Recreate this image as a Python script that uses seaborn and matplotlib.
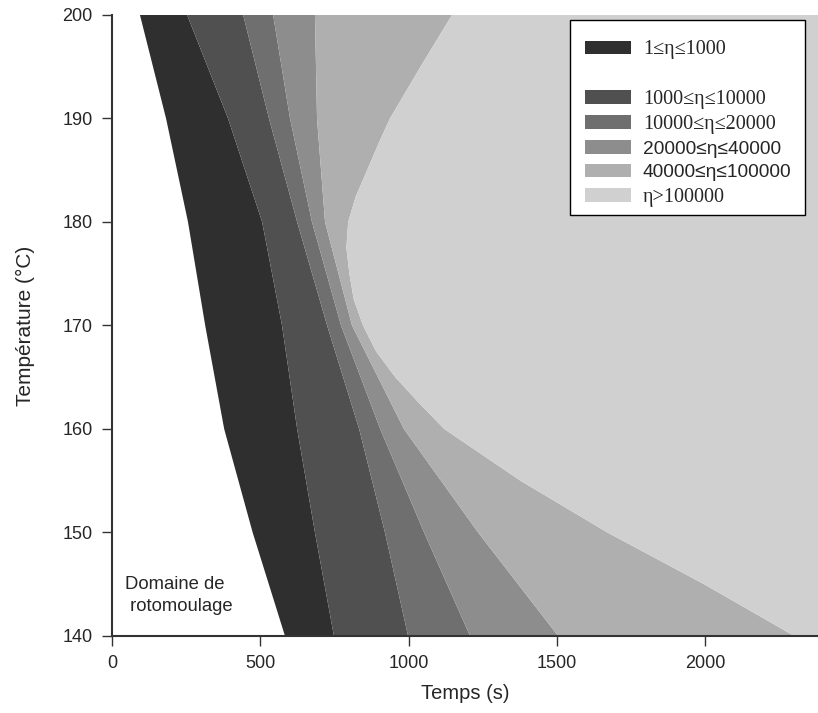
import matplotlib
matplotlib.use("Agg")
import matplotlib.pyplot as plt
from matplotlib.patches import Patch, Rectangle
import numpy as np
import seaborn as sns

sns.set_theme(style="ticks")
plt.rcParams["font.family"] = ["Liberation Sans", "DejaVu Sans"]

# Iso-viscosity boundaries: temperature (°C) vs time (s)
temps = [140, 150, 160, 170, 180, 190, 200]
t_eta_1 = [583, 474, 378, 314, 256, 182, 94]
t_eta_1000 = [748, 684, 624, 573, 506, 391, 253]
t_eta_10000 = [998, 920, 833, 725, 624, 529, 442]
t_eta_20000 = [1207, 1052, 904, 772, 674, 600, 543]
t_eta_40000 = [1504, 1234, 984, 809, 718, 691, 684]

temps_100000 = [140, 145, 150, 155, 160, 162.5, 165, 167.5, 170, 172.5,
                175, 177.5, 180, 182.5, 185, 187.5, 190, 195, 200]
t_eta_100000 = [2300, 1996, 1670, 1377, 1120, 1035, 955, 890, 846, 815,
                800, 790, 796, 822, 860, 897, 937, 1040, 1146]
t_max = 2380

labels = ["1≤η≤1000", "1000≤η≤10000", "10000≤η≤20000",
          "20000≤η≤40000", "40000≤η≤100000", "η>100000"]
colors = ["#2f2f2f", "#505050", "#6f6f6f", "#8d8d8d", "#afafaf", "#d0d0d0"]

bounds = [(temps, t_eta_1), (temps, t_eta_1000), (temps, t_eta_10000),
          (temps, t_eta_20000), (temps, t_eta_40000),
          (temps_100000, t_eta_100000), ([140, 200], [t_max, t_max])]

fig = plt.figure(figsize=(8.18, 7.13), dpi=100)
ax = fig.add_axes([0.137, 0.108, 0.863, 0.871])

for i in range(6):
    ty0, tx0 = bounds[i]
    ty1, tx1 = bounds[i + 1]
    xs = np.concatenate([tx0, tx1[::-1]])
    ys = np.concatenate([ty0, ty1[::-1]])
    ax.fill(xs, ys, color=colors[i], lw=0)

ax.set_xlim(0, t_max)
ax.set_ylim(140, 200)
ax.set_xticks([0, 500, 1000, 1500, 2000])
ax.set_yticks([140, 150, 160, 170, 180, 190, 200])
ax.tick_params(direction="out", length=7, width=1, labelsize=13, color="#333333", pad=7)
sns.despine(ax=ax)
for s in ["left", "bottom"]:
    ax.spines[s].set_color("#333333")
    ax.spines[s].set_linewidth(1.5)

ax.set_xlabel("Temps (s)", fontsize=14.5, labelpad=8)
ax.set_ylabel("Température (°C)", fontsize=15, labelpad=20)

ax.text(44, 143.9, "Domaine de\n rotomoulage", fontsize=13.3, ha="left", va="center",
        linespacing=1.4)

# legend box drawn separately so the entries can sit a bit lower inside it
ax.add_patch(Rectangle((0.6487, 0.6779), 0.3329, 0.314, transform=ax.transAxes,
                       facecolor="white", edgecolor="black", lw=1.0, zorder=4,
                       clip_on=False))
handles = [Patch(facecolor=colors[0], edgecolor="none", label=labels[0]),
           Patch(facecolor="none", edgecolor="none", label=" ")]
handles += [Patch(facecolor=c, edgecolor="none", label=l) for c, l in zip(colors[1:], labels[1:])]
leg = ax.legend(handles=handles, loc="upper left", bbox_to_anchor=(0.670, 0.959),
                borderaxespad=0, borderpad=0, fontsize=13.8, frameon=False,
                handlelength=2.4, handleheight=0.7, labelspacing=0.33,
                handletextpad=0.62)
leg.set_zorder(5)
for j, txt in enumerate(leg.get_texts()):
    if j in (4, 5):
        txt.set_family(["Liberation Sans", "DejaVu Sans"])
    else:
        txt.set_family(["Liberation Serif", "DejaVu Serif"])
        txt.set_fontsize(12 if j == 1 else 14.5)

fig.savefig("out.png", dpi=100)
